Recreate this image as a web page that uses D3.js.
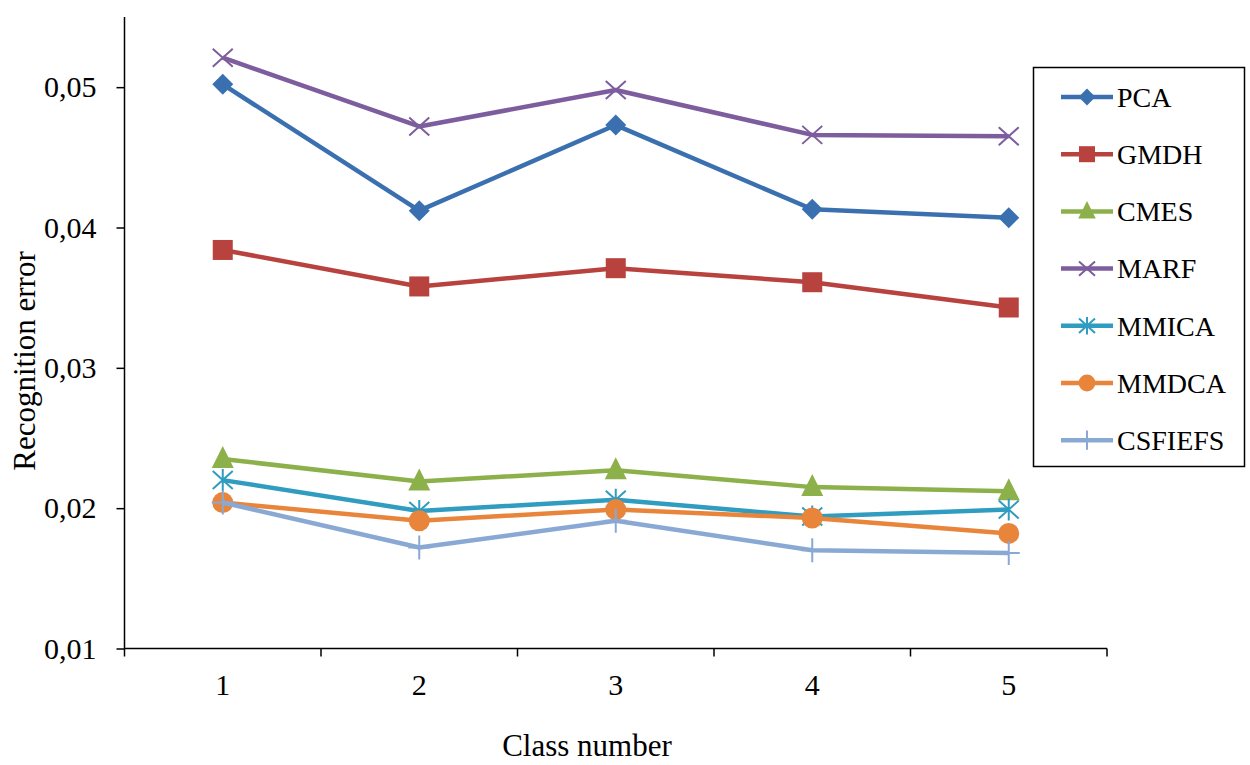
<!DOCTYPE html>
<html><head><meta charset="utf-8">
<script src="https://cdn.jsdelivr.net/npm/d3@7"></script>
<style>html,body{margin:0;padding:0;background:#fff;}svg{display:block;}</style>
</head><body><svg id="c" width="1250" height="765"></svg>
<script>
const categories = ["1","2","3","4","5"];
const seriesNames = ["PCA","GMDH","CMES","MARF","MMICA","MMDCA","CSFIEFS"];
const PCA     = [0.0502,0.0412,0.0473,0.0413,0.0407];
const GMDH    = [0.0384,0.0358,0.0371,0.0361,0.0343];
const CMES    = [0.0235,0.0219,0.0227,0.0215,0.0212];
const MARF    = [0.0521,0.0472,0.0498,0.0466,0.0465];
const MMICA   = [0.0220,0.0198,0.0206,0.0194,0.0199];
const MMDCA   = [0.0204,0.0191,0.0199,0.0193,0.0182];
const CSFIEFS = [0.0204,0.0172,0.0191,0.0170,0.0168];
const yTicks = [0.01,0.02,0.03,0.04,0.05];
const yTickLabels = ["0,01","0,02","0,03","0,04","0,05"];
const colors = ["#3b70b0","#b8423e","#8cb04a","#7d5d9e","#2f9cc0","#e8853a","#89a9d4"];
const markers = ["diamond","square","triangle","x","star","circle","plus"];
const values = [PCA,GMDH,CMES,MARF,MMICA,MMDCA,CSFIEFS];

(function(){
const svg = d3.select("#c");
const mLeft=124.5, mRight=1107, mTop=17, mBottom=648.5;
const x = d3.scaleBand().domain(categories).range([mLeft,mRight]);
const y = d3.scaleLinear().domain([0.01,0.055]).range([mBottom,mTop]);
const font = "'Liberation Serif','Times New Roman',serif";

// y axis
const yAxis = svg.append("g").attr("transform",`translate(${mLeft},0)`)
  .call(d3.axisLeft(y).tickValues(yTicks).tickFormat((d,i)=>yTickLabels[i]).tickSize(8).tickPadding(20));
yAxis.select(".domain").attr("d",`M0,${mTop}V${mBottom}`).attr("stroke","#000").attr("stroke-width",1.5);
yAxis.selectAll("line").attr("stroke","#000").attr("stroke-width",1.5);
yAxis.selectAll("text").attr("font-family",font).attr("font-size",30).attr("fill","#000");

// x axis
const xAxis = svg.append("g").attr("transform",`translate(0,${mBottom})`)
  .call(d3.axisBottom(x).tickSize(0).tickPadding(25));
xAxis.select(".domain").attr("d",`M${mLeft},0H${mRight}`).attr("stroke","#000").attr("stroke-width",1.5);
xAxis.selectAll("text").attr("font-family",font).attr("font-size",30).attr("fill","#000").attr("dy","0.71em");
const bounds = categories.map(c=>x(c)).concat([mRight]);
xAxis.selectAll(".bt").data(bounds).enter().append("line")
  .attr("x1",d=>d).attr("x2",d=>d).attr("y1",0).attr("y2",8).attr("stroke","#000").attr("stroke-width",1.5);

// titles
svg.append("text").attr("x",587).attr("y",756).attr("text-anchor","middle")
  .attr("font-family",font).attr("font-size",31).text("Class number");
svg.append("text").attr("transform","translate(35,361) rotate(-90)").attr("text-anchor","middle")
  .attr("font-family",font).attr("font-size",31).text("Recognition error");

function drawMarker(g, type, color, cx, cy, s){
  const k = s||1;
  if(type==="diamond"){
    g.append("path").attr("d",`M${cx},${cy-10.5*k}L${cx+10.5*k},${cy}L${cx},${cy+10.5*k}L${cx-10.5*k},${cy}Z`).attr("fill",color);
  } else if(type==="square"){
    g.append("rect").attr("x",cx-10*k).attr("y",cy-10*k).attr("width",20*k).attr("height",20*k).attr("fill",color);
  } else if(type==="triangle"){
    g.append("path").attr("d",`M${cx},${cy-13*k}L${cx+11*k},${cy+9*k}L${cx-11*k},${cy+9*k}Z`).attr("fill",color);
  } else if(type==="x"){
    g.append("path").attr("d",`M${cx-10*k},${cy-9*k}L${cx+10*k},${cy+9*k}M${cx-10*k},${cy+9*k}L${cx+10*k},${cy-9*k}`).attr("stroke",color).attr("stroke-width",2);
  } else if(type==="star"){
    g.append("path").attr("d",`M${cx-10*k},${cy-9*k}L${cx+10*k},${cy+9*k}M${cx-10*k},${cy+9*k}L${cx+10*k},${cy-9*k}M${cx},${cy-11*k}L${cx},${cy+11*k}`).attr("stroke",color).attr("stroke-width",2);
  } else if(type==="circle"){
    g.append("circle").attr("cx",cx).attr("cy",cy).attr("r",10.5*k).attr("fill",color);
  } else if(type==="plus"){
    g.append("path").attr("d",`M${cx-11*k},${cy}L${cx+11*k},${cy}M${cx},${cy-12*k}L${cx},${cy+12*k}`).attr("stroke",color).attr("stroke-width",2);
  }
}

const line = d3.line().x((d,i)=>x(categories[i])+x.bandwidth()/2).y(d=>y(d));
seriesNames.forEach((name,si)=>{
  const g = svg.append("g");
  g.append("path").attr("d",line(values[si])).attr("fill","none").attr("stroke",colors[si]).attr("stroke-width",4.5).attr("stroke-linejoin","round");
  values[si].forEach((v,i)=>drawMarker(g,markers[si],colors[si],x(categories[i])+x.bandwidth()/2,y(v),1));
});

// legend
const lg = svg.append("g");
lg.append("rect").attr("x",1033.5).attr("y",67.5).attr("width",211).attr("height",399).attr("fill","#fff").attr("stroke","#000").attr("stroke-width",1.5);
seriesNames.forEach((name,si)=>{
  const ly = 97 + si*57.2;
  lg.append("line").attr("x1",1061).attr("x2",1113).attr("y1",ly).attr("y2",ly).attr("stroke",colors[si]).attr("stroke-width",4.5);
  drawMarker(lg,markers[si],colors[si],1087,ly,0.8);
  lg.append("text").attr("x",1117).attr("y",ly).attr("dy","0.35em").attr("font-family",font).attr("font-size",28).text(name);
});
})();
</script></body></html>
